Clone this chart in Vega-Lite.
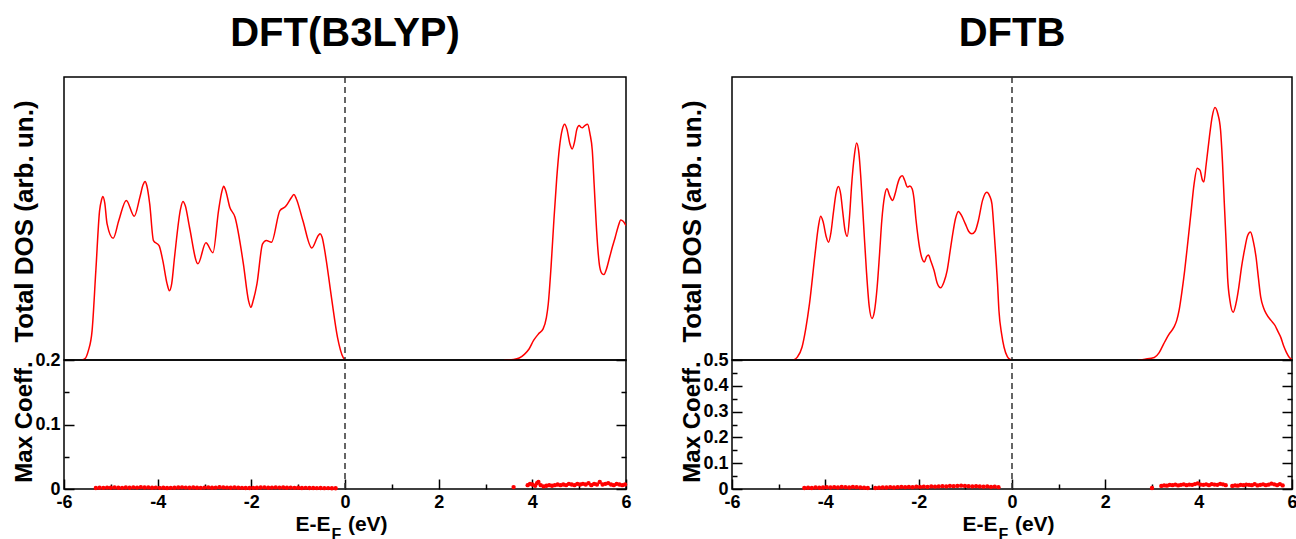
{
  "$schema": "https://vega.github.io/schema/vega-lite/v6.json",
  "padding": {"left": 10, "top": 13, "right": 5, "bottom": 0},
  "background": "white",
  "config": {
    "font": "Liberation Sans",
    "view": {"stroke": "black", "strokeWidth": 1.5},
    "axis": {
      "grid": false, "domain": false,
      "labelFont": "Liberation Sans", "labelFontWeight": "bold", "labelFontSize": 18, "labelColor": "black",
      "titleFont": "Liberation Sans", "titleFontWeight": "bold", "titleFontSize": 24, "titleColor": "black",
      "tickColor": "black", "tickWidth": 1.5
    },
    "title": {"fontSize": 40, "fontWeight": "bold", "font": "Liberation Sans", "color": "black", "anchor": "middle", "frame": "group", "offset": 22}
  },
  "datasets": {
    "dftDos": [
      {"e":-5.62,"v":0,"s":"v"},{"e":-5.55,"v":0.005,"s":"v"},{"e":-5.48,"v":0.033,"s":"v"},{"e":-5.40,"v":0.104,"s":"v"},{"e":-5.32,"v":0.316,"s":"v"},{"e":-5.24,"v":0.528,"s":"v"},{"e":-5.20,"v":0.565,"s":"v"},{"e":-5.17,"v":0.578,"s":"v"},{"e":-5.13,"v":0.555,"s":"v"},{"e":-5.08,"v":0.481,"s":"v"},{"e":-4.95,"v":0.430,"s":"v"},{"e":-4.83,"v":0.493,"s":"v"},{"e":-4.67,"v":0.564,"s":"v"},{"e":-4.50,"v":0.508,"s":"v"},{"e":-4.38,"v":0.575,"s":"v"},{"e":-4.31,"v":0.620,"s":"v"},{"e":-4.27,"v":0.631,"s":"v"},{"e":-4.23,"v":0.615,"s":"v"},{"e":-4.17,"v":0.552,"s":"v"},{"e":-4.09,"v":0.422,"s":"v"},{"e":-3.97,"v":0.404,"s":"v"},{"e":-3.89,"v":0.351,"s":"v"},{"e":-3.80,"v":0.270,"s":"v"},{"e":-3.75,"v":0.245,"s":"v"},{"e":-3.70,"v":0.270,"s":"v"},{"e":-3.64,"v":0.363,"s":"v"},{"e":-3.51,"v":0.535,"s":"v"},{"e":-3.46,"v":0.560,"s":"v"},{"e":-3.41,"v":0.545,"s":"v"},{"e":-3.32,"v":0.469,"s":"v"},{"e":-3.14,"v":0.340,"s":"v"},{"e":-2.97,"v":0.414,"s":"v"},{"e":-2.82,"v":0.379,"s":"v"},{"e":-2.70,"v":0.528,"s":"v"},{"e":-2.63,"v":0.595,"s":"v"},{"e":-2.59,"v":0.614,"s":"v"},{"e":-2.55,"v":0.600,"s":"v"},{"e":-2.46,"v":0.540,"s":"v"},{"e":-2.35,"v":0.505,"s":"v"},{"e":-2.17,"v":0.340,"s":"v"},{"e":-2.06,"v":0.210,"s":"v"},{"e":-2.01,"v":0.186,"s":"v"},{"e":-1.96,"v":0.210,"s":"v"},{"e":-1.88,"v":0.269,"s":"v"},{"e":-1.76,"v":0.410,"s":"v"},{"e":-1.68,"v":0.422,"s":"v"},{"e":-1.57,"v":0.416,"s":"v"},{"e":-1.39,"v":0.528,"s":"v"},{"e":-1.27,"v":0.542,"s":"v"},{"e":-1.14,"v":0.575,"s":"v"},{"e":-1.09,"v":0.585,"s":"v"},{"e":-1.04,"v":0.570,"s":"v"},{"e":-0.90,"v":0.493,"s":"v"},{"e":-0.71,"v":0.396,"s":"v"},{"e":-0.57,"v":0.440,"s":"v"},{"e":-0.53,"v":0.446,"s":"v"},{"e":-0.49,"v":0.435,"s":"v"},{"e":-0.41,"v":0.363,"s":"v"},{"e":-0.29,"v":0.222,"s":"v"},{"e":-0.16,"v":0.080,"s":"v"},{"e":-0.04,"v":0.009,"s":"v"},{"e":0.0,"v":0,"s":"v"},
      {"e":3.40,"v":0,"s":"c"},{"e":3.60,"v":0.002,"s":"c"},{"e":3.72,"v":0.007,"s":"c"},{"e":3.83,"v":0.020,"s":"c"},{"e":3.93,"v":0.039,"s":"c"},{"e":4.03,"v":0.070,"s":"c"},{"e":4.13,"v":0.092,"s":"c"},{"e":4.23,"v":0.110,"s":"c"},{"e":4.30,"v":0.150,"s":"c"},{"e":4.34,"v":0.198,"s":"c"},{"e":4.40,"v":0.330,"s":"c"},{"e":4.46,"v":0.493,"s":"c"},{"e":4.52,"v":0.640,"s":"c"},{"e":4.58,"v":0.752,"s":"c"},{"e":4.64,"v":0.815,"s":"c"},{"e":4.69,"v":0.833,"s":"c"},{"e":4.74,"v":0.815,"s":"c"},{"e":4.80,"v":0.765,"s":"c"},{"e":4.85,"v":0.746,"s":"c"},{"e":4.90,"v":0.770,"s":"c"},{"e":4.95,"v":0.815,"s":"c"},{"e":5.00,"v":0.829,"s":"c"},{"e":5.04,"v":0.822,"s":"c"},{"e":5.07,"v":0.821,"s":"c"},{"e":5.12,"v":0.828,"s":"c"},{"e":5.18,"v":0.833,"s":"c"},{"e":5.23,"v":0.800,"s":"c"},{"e":5.28,"v":0.741,"s":"c"},{"e":5.32,"v":0.620,"s":"c"},{"e":5.36,"v":0.493,"s":"c"},{"e":5.40,"v":0.390,"s":"c"},{"e":5.44,"v":0.328,"s":"c"},{"e":5.49,"v":0.305,"s":"c"},{"e":5.53,"v":0.302,"s":"c"},{"e":5.58,"v":0.320,"s":"c"},{"e":5.65,"v":0.363,"s":"c"},{"e":5.71,"v":0.400,"s":"c"},{"e":5.77,"v":0.434,"s":"c"},{"e":5.83,"v":0.470,"s":"c"},{"e":5.89,"v":0.495,"s":"c"},{"e":5.94,"v":0.490,"s":"c"},{"e":6.0,"v":0.475,"s":"c"}
    ],
    "dftbDos": [
      {"e":-4.68,"v":0,"s":"v"},{"e":-4.60,"v":0.010,"s":"v"},{"e":-4.50,"v":0.045,"s":"v"},{"e":-4.42,"v":0.110,"s":"v"},{"e":-4.34,"v":0.198,"s":"v"},{"e":-4.22,"v":0.375,"s":"v"},{"e":-4.15,"v":0.470,"s":"v"},{"e":-4.10,"v":0.508,"s":"v"},{"e":-4.05,"v":0.490,"s":"v"},{"e":-3.98,"v":0.435,"s":"v"},{"e":-3.93,"v":0.416,"s":"v"},{"e":-3.88,"v":0.450,"s":"v"},{"e":-3.83,"v":0.517,"s":"v"},{"e":-3.77,"v":0.590,"s":"v"},{"e":-3.72,"v":0.613,"s":"v"},{"e":-3.67,"v":0.585,"s":"v"},{"e":-3.63,"v":0.528,"s":"v"},{"e":-3.58,"v":0.460,"s":"v"},{"e":-3.53,"v":0.437,"s":"v"},{"e":-3.48,"v":0.510,"s":"v"},{"e":-3.44,"v":0.611,"s":"v"},{"e":-3.38,"v":0.720,"s":"v"},{"e":-3.33,"v":0.767,"s":"v"},{"e":-3.28,"v":0.730,"s":"v"},{"e":-3.24,"v":0.646,"s":"v"},{"e":-3.18,"v":0.480,"s":"v"},{"e":-3.12,"v":0.316,"s":"v"},{"e":-3.06,"v":0.190,"s":"v"},{"e":-3.00,"v":0.147,"s":"v"},{"e":-2.95,"v":0.170,"s":"v"},{"e":-2.89,"v":0.257,"s":"v"},{"e":-2.84,"v":0.370,"s":"v"},{"e":-2.79,"v":0.493,"s":"v"},{"e":-2.73,"v":0.580,"s":"v"},{"e":-2.68,"v":0.605,"s":"v"},{"e":-2.62,"v":0.580,"s":"v"},{"e":-2.56,"v":0.564,"s":"v"},{"e":-2.50,"v":0.590,"s":"v"},{"e":-2.45,"v":0.623,"s":"v"},{"e":-2.40,"v":0.645,"s":"v"},{"e":-2.35,"v":0.651,"s":"v"},{"e":-2.30,"v":0.635,"s":"v"},{"e":-2.24,"v":0.611,"s":"v"},{"e":-2.19,"v":0.615,"s":"v"},{"e":-2.14,"v":0.605,"s":"v"},{"e":-2.10,"v":0.570,"s":"v"},{"e":-2.06,"v":0.500,"s":"v"},{"e":-2.01,"v":0.430,"s":"v"},{"e":-1.97,"v":0.387,"s":"v"},{"e":-1.92,"v":0.355,"s":"v"},{"e":-1.88,"v":0.346,"s":"v"},{"e":-1.83,"v":0.365,"s":"v"},{"e":-1.79,"v":0.371,"s":"v"},{"e":-1.74,"v":0.350,"s":"v"},{"e":-1.67,"v":0.316,"s":"v"},{"e":-1.60,"v":0.270,"s":"v"},{"e":-1.53,"v":0.255,"s":"v"},{"e":-1.46,"v":0.275,"s":"v"},{"e":-1.39,"v":0.316,"s":"v"},{"e":-1.33,"v":0.380,"s":"v"},{"e":-1.27,"v":0.446,"s":"v"},{"e":-1.21,"v":0.500,"s":"v"},{"e":-1.15,"v":0.525,"s":"v"},{"e":-1.08,"v":0.510,"s":"v"},{"e":-1.00,"v":0.481,"s":"v"},{"e":-0.93,"v":0.455,"s":"v"},{"e":-0.86,"v":0.446,"s":"v"},{"e":-0.79,"v":0.455,"s":"v"},{"e":-0.72,"v":0.493,"s":"v"},{"e":-0.63,"v":0.565,"s":"v"},{"e":-0.54,"v":0.593,"s":"v"},{"e":-0.48,"v":0.580,"s":"v"},{"e":-0.43,"v":0.552,"s":"v"},{"e":-0.39,"v":0.470,"s":"v"},{"e":-0.35,"v":0.375,"s":"v"},{"e":-0.31,"v":0.270,"s":"v"},{"e":-0.28,"v":0.175,"s":"v"},{"e":-0.22,"v":0.090,"s":"v"},{"e":-0.17,"v":0.045,"s":"v"},{"e":-0.10,"v":0.012,"s":"v"},{"e":-0.04,"v":0.002,"s":"v"},{"e":0.0,"v":0,"s":"v"},
      {"e":2.70,"v":0,"s":"c"},{"e":2.85,"v":0.003,"s":"c"},{"e":3.05,"v":0.009,"s":"c"},{"e":3.15,"v":0.025,"s":"c"},{"e":3.25,"v":0.057,"s":"c"},{"e":3.36,"v":0.090,"s":"c"},{"e":3.47,"v":0.116,"s":"c"},{"e":3.53,"v":0.140,"s":"c"},{"e":3.58,"v":0.175,"s":"c"},{"e":3.64,"v":0.240,"s":"c"},{"e":3.70,"v":0.316,"s":"c"},{"e":3.77,"v":0.420,"s":"c"},{"e":3.84,"v":0.528,"s":"c"},{"e":3.90,"v":0.620,"s":"c"},{"e":3.97,"v":0.678,"s":"c"},{"e":4.03,"v":0.670,"s":"c"},{"e":4.08,"v":0.635,"s":"c"},{"e":4.11,"v":0.629,"s":"c"},{"e":4.16,"v":0.690,"s":"c"},{"e":4.23,"v":0.788,"s":"c"},{"e":4.29,"v":0.860,"s":"c"},{"e":4.35,"v":0.892,"s":"c"},{"e":4.41,"v":0.870,"s":"c"},{"e":4.47,"v":0.811,"s":"c"},{"e":4.51,"v":0.700,"s":"c"},{"e":4.55,"v":0.552,"s":"c"},{"e":4.59,"v":0.410,"s":"c"},{"e":4.62,"v":0.292,"s":"c"},{"e":4.67,"v":0.210,"s":"c"},{"e":4.74,"v":0.169,"s":"c"},{"e":4.80,"v":0.200,"s":"c"},{"e":4.86,"v":0.257,"s":"c"},{"e":4.92,"v":0.330,"s":"c"},{"e":4.98,"v":0.387,"s":"c"},{"e":5.05,"v":0.440,"s":"c"},{"e":5.11,"v":0.452,"s":"c"},{"e":5.17,"v":0.420,"s":"c"},{"e":5.23,"v":0.363,"s":"c"},{"e":5.28,"v":0.290,"s":"c"},{"e":5.33,"v":0.222,"s":"c"},{"e":5.39,"v":0.185,"s":"c"},{"e":5.45,"v":0.163,"s":"c"},{"e":5.55,"v":0.140,"s":"c"},{"e":5.64,"v":0.121,"s":"c"},{"e":5.70,"v":0.100,"s":"c"},{"e":5.76,"v":0.080,"s":"c"},{"e":5.82,"v":0.050,"s":"c"},{"e":5.88,"v":0.027,"s":"c"},{"e":5.94,"v":0.010,"s":"c"},{"e":6.0,"v":0.002,"s":"c"}
    ],
    "dftCoef": [
      {"e":-5.32,"c":0.0015},{"e":-5.24,"c":0.002},{"e":-5.16,"c":0.0018},{"e":-5.08,"c":0.0022},{"e":-5.00,"c":0.002},{"e":-4.92,"c":0.0025},{"e":-4.84,"c":0.002},{"e":-4.76,"c":0.0018},{"e":-4.68,"c":0.0024},{"e":-4.60,"c":0.002},{"e":-4.52,"c":0.0026},{"e":-4.44,"c":0.0022},{"e":-4.36,"c":0.0028},{"e":-4.28,"c":0.0024},{"e":-4.20,"c":0.0025},{"e":-4.12,"c":0.002},{"e":-4.04,"c":0.0022},{"e":-3.96,"c":0.0018},{"e":-3.88,"c":0.002},{"e":-3.80,"c":0.0015},{"e":-3.72,"c":0.0018},{"e":-3.64,"c":0.002},{"e":-3.56,"c":0.0024},{"e":-3.48,"c":0.0026},{"e":-3.40,"c":0.0022},{"e":-3.32,"c":0.002},{"e":-3.24,"c":0.0024},{"e":-3.16,"c":0.002},{"e":-3.08,"c":0.0018},{"e":-3.00,"c":0.0022},{"e":-2.92,"c":0.0025},{"e":-2.84,"c":0.002},{"e":-2.76,"c":0.0022},{"e":-2.68,"c":0.0028},{"e":-2.60,"c":0.0025},{"e":-2.52,"c":0.0022},{"e":-2.44,"c":0.002},{"e":-2.36,"c":0.0024},{"e":-2.28,"c":0.002},{"e":-2.20,"c":0.0018},{"e":-2.12,"c":0.0015},{"e":-2.04,"c":0.0016},{"e":-1.96,"c":0.0018},{"e":-1.88,"c":0.002},{"e":-1.80,"c":0.0024},{"e":-1.72,"c":0.0025},{"e":-1.64,"c":0.002},{"e":-1.56,"c":0.0022},{"e":-1.48,"c":0.0025},{"e":-1.40,"c":0.0022},{"e":-1.32,"c":0.0024},{"e":-1.24,"c":0.002},{"e":-1.16,"c":0.0022},{"e":-1.08,"c":0.0018},{"e":-1.00,"c":0.002},{"e":-0.92,"c":0.0016},{"e":-0.84,"c":0.0018},{"e":-0.76,"c":0.0015},{"e":-0.68,"c":0.0016},{"e":-0.60,"c":0.0014},{"e":-0.52,"c":0.0015},{"e":-0.44,"c":0.0013},{"e":-0.36,"c":0.0014},{"e":-0.28,"c":0.0012},{"e":-0.20,"c":0.0012},
      {"e":3.60,"c":0.003},{"e":3.90,"c":0.006},{"e":3.95,"c":0.008},{"e":4.00,"c":0.007},{"e":4.06,"c":0.005},{"e":4.10,"c":0.009},{"e":4.13,"c":0.011},{"e":4.18,"c":0.006},{"e":4.24,"c":0.004},{"e":4.30,"c":0.005},{"e":4.36,"c":0.006},{"e":4.42,"c":0.005},{"e":4.48,"c":0.006},{"e":4.54,"c":0.007},{"e":4.60,"c":0.006},{"e":4.66,"c":0.007},{"e":4.72,"c":0.006},{"e":4.78,"c":0.008},{"e":4.84,"c":0.007},{"e":4.90,"c":0.006},{"e":4.96,"c":0.008},{"e":5.02,"c":0.007},{"e":5.08,"c":0.008},{"e":5.14,"c":0.007},{"e":5.20,"c":0.009},{"e":5.26,"c":0.006},{"e":5.32,"c":0.008},{"e":5.38,"c":0.007},{"e":5.44,"c":0.011},{"e":5.50,"c":0.007},{"e":5.56,"c":0.008},{"e":5.62,"c":0.009},{"e":5.68,"c":0.007},{"e":5.74,"c":0.006},{"e":5.80,"c":0.008},{"e":5.86,"c":0.007},{"e":5.92,"c":0.006},{"e":5.98,"c":0.007}
    ],
    "dftbCoef": [
      {"e":-4.45,"c":0.004},{"e":-4.37,"c":0.005},{"e":-4.29,"c":0.004},{"e":-4.21,"c":0.006},{"e":-4.13,"c":0.005},{"e":-4.05,"c":0.006},{"e":-3.97,"c":0.007},{"e":-3.89,"c":0.006},{"e":-3.81,"c":0.007},{"e":-3.73,"c":0.006},{"e":-3.65,"c":0.008},{"e":-3.57,"c":0.007},{"e":-3.49,"c":0.006},{"e":-3.41,"c":0.008},{"e":-3.33,"c":0.007},{"e":-3.25,"c":0.006},{"e":-3.17,"c":0.005},{"e":-3.09,"c":0.004},{"e":-2.93,"c":0.004},{"e":-2.85,"c":0.005},{"e":-2.77,"c":0.006},{"e":-2.69,"c":0.006},{"e":-2.61,"c":0.007},{"e":-2.53,"c":0.006},{"e":-2.45,"c":0.007},{"e":-2.37,"c":0.008},{"e":-2.29,"c":0.007},{"e":-2.21,"c":0.008},{"e":-2.13,"c":0.007},{"e":-2.05,"c":0.009},{"e":-1.97,"c":0.008},{"e":-1.89,"c":0.009},{"e":-1.81,"c":0.008},{"e":-1.73,"c":0.010},{"e":-1.65,"c":0.009},{"e":-1.57,"c":0.010},{"e":-1.49,"c":0.011},{"e":-1.41,"c":0.010},{"e":-1.33,"c":0.012},{"e":-1.25,"c":0.011},{"e":-1.17,"c":0.012},{"e":-1.09,"c":0.013},{"e":-1.01,"c":0.012},{"e":-0.93,"c":0.011},{"e":-0.85,"c":0.010},{"e":-0.77,"c":0.011},{"e":-0.69,"c":0.010},{"e":-0.61,"c":0.009},{"e":-0.53,"c":0.010},{"e":-0.45,"c":0.008},{"e":-0.37,"c":0.009},{"e":-0.29,"c":0.007},
      {"e":3.00,"c":0.004},{"e":3.20,"c":0.012},{"e":3.26,"c":0.014},{"e":3.32,"c":0.013},{"e":3.38,"c":0.016},{"e":3.44,"c":0.015},{"e":3.50,"c":0.017},{"e":3.56,"c":0.014},{"e":3.62,"c":0.016},{"e":3.68,"c":0.018},{"e":3.74,"c":0.015},{"e":3.80,"c":0.017},{"e":3.86,"c":0.016},{"e":3.92,"c":0.019},{"e":3.98,"c":0.022},{"e":4.04,"c":0.017},{"e":4.10,"c":0.016},{"e":4.16,"c":0.018},{"e":4.22,"c":0.015},{"e":4.28,"c":0.019},{"e":4.34,"c":0.017},{"e":4.40,"c":0.016},{"e":4.46,"c":0.020},{"e":4.52,"c":0.018},{"e":4.58,"c":0.015},{"e":4.72,"c":0.012},{"e":4.78,"c":0.014},{"e":4.84,"c":0.013},{"e":4.90,"c":0.016},{"e":4.96,"c":0.015},{"e":5.02,"c":0.017},{"e":5.08,"c":0.016},{"e":5.14,"c":0.015},{"e":5.20,"c":0.019},{"e":5.26,"c":0.014},{"e":5.32,"c":0.016},{"e":5.38,"c":0.018},{"e":5.44,"c":0.015},{"e":5.50,"c":0.017},{"e":5.56,"c":0.021},{"e":5.62,"c":0.018},{"e":5.68,"c":0.015},{"e":5.74,"c":0.019},{"e":5.80,"c":0.014}
    ],
    "dftZero": [{"e":0,"lo":0,"hi":0.2}],
    "dftbZero": [{"e":0,"lo":0,"hi":0.5}]
  },
  "spacing": 46,
  "hconcat": [
    {
      "bounds": "flush",
      "spacing": 0,
      "vconcat": [
        {
          "title": "DFT(B3LYP)",
          "width": 562, "height": 283,
          "layer": [
            {
              "data": {"name": "dftDos"},
              "mark": {"type": "line", "color": "#ff0000", "strokeWidth": 1.5, "interpolate": "monotone", "clip": true},
              "encoding": {
                "x": {"field": "e", "type": "quantitative", "scale": {"domain": [-6, 6], "nice": false, "zero": false}, "axis": null},
                "y": {"field": "v", "type": "quantitative", "scale": {"domain": [0, 1], "nice": false},
                      "axis": {"title": "Total DOS (arb. un.)", "titleFontSize": 26, "labels": false, "ticks": false, "titleX": -32, "titleY": 144, "titleAlign": "center", "titleBaseline": "alphabetic"}},
                "detail": {"field": "s", "type": "nominal"}
              }
            },
            {
              "data": {"values": [{"e": 0}]},
              "mark": {"type": "rule", "color": "#333333", "strokeWidth": 1.5, "strokeDash": [6, 4]},
              "encoding": {"x": {"field": "e", "type": "quantitative"}}
            }
          ]
        },
        {
          "width": 562, "height": 129,
          "layer": [
            {
              "data": {"name": "dftCoef"},
              "mark": {"type": "circle", "color": "#ff0000", "size": 19, "opacity": 1},
              "encoding": {
                "x": {"field": "e", "type": "quantitative", "scale": {"domain": [-6, 6], "nice": false, "zero": false},
                      "axis": {"orient": "bottom", "values": [-6,-5,-4,-3,-2,-1,0,1,2,3,4,5,6],
                               "tickSize": {"condition": {"test": "abs(round(datum.value)) % 2 === 1", "value": -5}, "value": -10},
                               "labelExpr": "abs(round(datum.value)) % 2 === 0 ? toString(datum.value) : ''",
                               "labelPadding": 14, "labelFlush": false, "labelOverlap": false,
                               "title": "E-E\u00a0\u00a0\u00a0(eV)", "titleFontSize": 21, "titleX": 277, "titleY": 24, "titleAlign": "center", "titleBaseline": "top"}},
                "y": {"field": "c", "type": "quantitative", "scale": {"domain": [0, 0.2], "nice": false},
                      "axis": {"orient": "left", "values": [0, 0.05, 0.1, 0.15, 0.2],
                               "tickSize": {"condition": {"test": "abs(round(datum.value*100)) % 10 !== 0", "value": -5}, "value": -10},
                               "labelExpr": "abs(round(datum.value*100)) % 10 === 0 ? format(datum.value, '~g') : ''",
                               "labelPadding": 14, "labelOverlap": false, "labelFlush": false,
                               "title": "Max Coeff.", "titleX": -33, "titleY": 61.5, "titleAlign": "center", "titleBaseline": "alphabetic"}}
              }
            },
            {
              "data": {"name": "dftZero"},
              "mark": {"type": "rule", "color": "#333333", "strokeWidth": 1.5, "strokeDash": [6, 4]},
              "encoding": {
                "x": {"field": "e", "type": "quantitative",
                      "axis": {"orient": "bottom", "labels": false, "ticks": false, "title": "F", "titleFontSize": 16, "titleX": 267, "titleY": 37, "titleAlign": "left", "titleBaseline": "top"}},
                "y": {"field": "lo", "type": "quantitative",
                      "axis": {"orient": "right", "values": [0, 0.05, 0.1, 0.15, 0.2], "labels": false, "title": null,
                               "tickSize": {"condition": {"test": "abs(round(datum.value*100)) % 10 !== 0", "value": -5}, "value": -10}}},
                "y2": {"field": "hi"}
              }
            }
          ],
          "resolve": {"axis": {"x": "independent", "y": "independent"}}
        }
      ]
    },
    {
      "bounds": "flush",
      "spacing": 0,
      "vconcat": [
        {
          "title": "DFTB",
          "width": 560, "height": 283,
          "layer": [
            {
              "data": {"name": "dftbDos"},
              "mark": {"type": "line", "color": "#ff0000", "strokeWidth": 1.5, "interpolate": "monotone", "clip": true},
              "encoding": {
                "x": {"field": "e", "type": "quantitative", "scale": {"domain": [-6, 6], "nice": false, "zero": false}, "axis": null},
                "y": {"field": "v", "type": "quantitative", "scale": {"domain": [0, 1], "nice": false},
                      "axis": {"title": "Total DOS (arb. un.)", "titleFontSize": 26, "labels": false, "ticks": false, "titleX": -32, "titleY": 144, "titleAlign": "center", "titleBaseline": "alphabetic"}},
                "detail": {"field": "s", "type": "nominal"}
              }
            },
            {
              "data": {"values": [{"e": 0}]},
              "mark": {"type": "rule", "color": "#333333", "strokeWidth": 1.5, "strokeDash": [6, 4]},
              "encoding": {"x": {"field": "e", "type": "quantitative"}}
            }
          ]
        },
        {
          "width": 560, "height": 129,
          "layer": [
            {
              "data": {"name": "dftbCoef"},
              "mark": {"type": "circle", "color": "#ff0000", "size": 19, "opacity": 1},
              "encoding": {
                "x": {"field": "e", "type": "quantitative", "scale": {"domain": [-6, 6], "nice": false, "zero": false},
                      "axis": {"orient": "bottom", "values": [-6,-5,-4,-3,-2,-1,0,1,2,3,4,5,6],
                               "tickSize": {"condition": {"test": "abs(round(datum.value)) % 2 === 1", "value": -5}, "value": -10},
                               "labelExpr": "abs(round(datum.value)) % 2 === 0 ? toString(datum.value) : ''",
                               "labelPadding": 14, "labelFlush": false, "labelOverlap": false,
                               "title": "E-E\u00a0\u00a0\u00a0(eV)", "titleFontSize": 21, "titleX": 276, "titleY": 24, "titleAlign": "center", "titleBaseline": "top"}},
                "y": {"field": "c", "type": "quantitative", "scale": {"domain": [0, 0.5], "nice": false},
                      "axis": {"orient": "left", "values": [0, 0.05, 0.1, 0.15, 0.2, 0.25, 0.3, 0.35, 0.4, 0.45, 0.5],
                               "tickSize": {"condition": {"test": "abs(round(datum.value*100)) % 10 !== 0", "value": -5}, "value": -10},
                               "labelExpr": "abs(round(datum.value*100)) % 10 === 0 ? format(datum.value, '~g') : ''",
                               "labelPadding": 14, "labelOverlap": false, "labelFlush": false,
                               "title": "Max Coeff.", "titleX": -33, "titleY": 61.5, "titleAlign": "center", "titleBaseline": "alphabetic"}}
              }
            },
            {
              "data": {"name": "dftbZero"},
              "mark": {"type": "rule", "color": "#333333", "strokeWidth": 1.5, "strokeDash": [6, 4]},
              "encoding": {
                "x": {"field": "e", "type": "quantitative",
                      "axis": {"orient": "bottom", "labels": false, "ticks": false, "title": "F", "titleFontSize": 16, "titleX": 266, "titleY": 37, "titleAlign": "left", "titleBaseline": "top"}},
                "y": {"field": "lo", "type": "quantitative",
                      "axis": {"orient": "right", "values": [0, 0.05, 0.1, 0.15, 0.2, 0.25, 0.3, 0.35, 0.4, 0.45, 0.5], "labels": false, "title": null,
                               "tickSize": {"condition": {"test": "abs(round(datum.value*100)) % 10 !== 0", "value": -5}, "value": -10}}},
                "y2": {"field": "hi"}
              }
            }
          ],
          "resolve": {"axis": {"x": "independent", "y": "independent"}}
        }
      ]
    }
  ]
}
